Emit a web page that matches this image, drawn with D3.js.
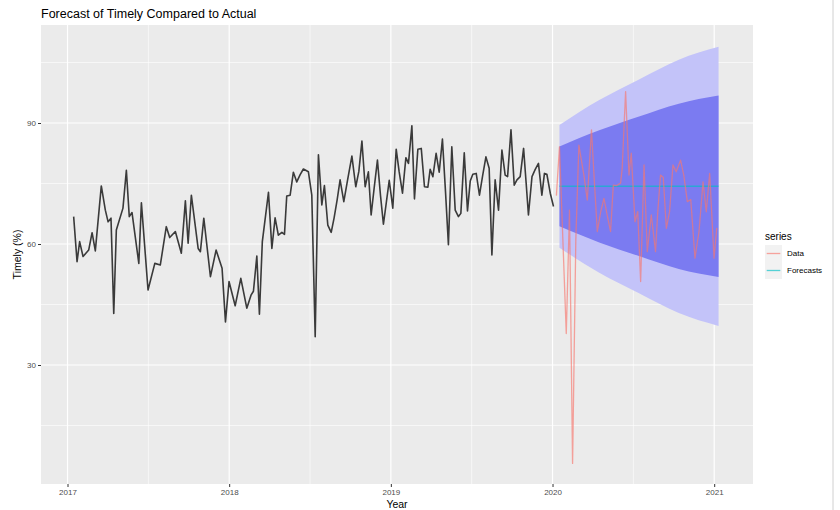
<!DOCTYPE html>
<html>
<head>
<meta charset="utf-8">
<script src="https://cdn.jsdelivr.net/npm/d3@7"></script>
<style>
  html, body { margin: 0; padding: 0; background: #ffffff; }
  svg { display: block; font-family: "Liberation Sans", Arial, sans-serif; }
</style>
</head>
<body>
<svg id="chart" width="840" height="510"></svg>
<script>
// ---------- DATA ----------
// Actual series (black), decimal year and Timely (%)
const actualTime = [
  2017.038, 2017.059, 2017.075, 2017.096, 2017.131, 2017.152, 2017.172, 2017.209, 2017.234, 2017.251,
  2017.269, 2017.286, 2017.302, 2017.343, 2017.364, 2017.382, 2017.399, 2017.441, 2017.457, 2017.498,
  2017.540, 2017.574, 2017.611, 2017.632, 2017.667, 2017.704, 2017.729, 2017.746, 2017.766, 2017.808,
  2017.822, 2017.843, 2017.884, 2017.919, 2017.956, 2017.977, 2017.999, 2018.037, 2018.072, 2018.109,
  2018.136, 2018.150, 2018.171, 2018.187, 2018.205, 2018.243, 2018.264, 2018.284, 2018.304, 2018.326,
  2018.342, 2018.356, 2018.377, 2018.397, 2018.418, 2018.439, 2018.459, 2018.490, 2018.511, 2018.532,
  2018.552, 2018.573, 2018.589, 2018.610, 2018.631, 2018.649, 2018.668, 2018.686, 2018.709, 2018.733,
  2018.759, 2018.783, 2018.802, 2018.821, 2018.841, 2018.861, 2018.878, 2018.897, 2018.917, 2018.936,
  2018.954, 2018.971, 2018.990, 2019.012, 2019.033, 2019.051, 2019.072, 2019.093, 2019.109, 2019.130,
  2019.146, 2019.167, 2019.188, 2019.208, 2019.229, 2019.243, 2019.260, 2019.280, 2019.299, 2019.319,
  2019.338, 2019.356, 2019.377, 2019.398, 2019.418, 2019.433, 2019.454, 2019.474, 2019.491, 2019.507,
  2019.528, 2019.548, 2019.568, 2019.588, 2019.608, 2019.625, 2019.645, 2019.666, 2019.687, 2019.707,
  2019.722, 2019.743, 2019.763, 2019.780, 2019.800, 2019.821, 2019.837, 2019.851, 2019.873, 2019.893,
  2019.913, 2019.934, 2019.950, 2019.965, 2019.986, 2020.006
];
const actualValue = [
  66.8, 55.6, 60.6, 56.9, 58.5, 62.8, 58.3, 74.4, 68.4, 65.5,
  66.4, 42.8, 63.5, 68.9, 78.3, 66.8, 67.8, 55.2, 70.2, 48.6,
  55.2, 54.8, 64.3, 61.6, 63.1, 57.7, 70.7, 60.2, 72.1, 58.9,
  58.1, 66.4, 51.9, 58.5, 54.0, 40.7, 50.7, 44.7, 51.5, 44.1,
  47.4, 48.3, 57.0, 42.6, 60.6, 72.8, 58.9, 66.5, 62.2, 62.9,
  62.4, 71.9, 72.1, 77.8, 75.4, 77.2, 78.6, 77.9, 72.1, 37.0,
  82.1, 69.7, 74.5, 64.7, 62.9, 66.5, 71.0, 75.9, 70.5, 76.0,
  81.8, 74.2, 78.0, 85.5, 74.2, 77.9, 67.2, 74.0, 80.8, 72.0,
  64.9, 70.0, 75.8, 68.9, 83.5, 78.0, 72.6, 81.4, 80.0, 89.3,
  71.2, 83.5, 83.7, 74.2, 74.1, 78.5, 76.7, 82.5, 77.8, 86.0,
  73.0, 59.8, 84.1, 68.4, 66.8, 67.6, 82.6, 68.2, 75.6, 77.3,
  77.5, 72.1, 77.0, 81.6, 78.8, 57.3, 75.9, 68.4, 83.3, 77.1,
  76.7, 88.3, 74.6, 75.9, 76.7, 83.7, 75.0, 67.2, 76.7, 78.5,
  80.0, 72.1, 77.5, 77.3, 72.6, 69.3
];

// Test data (red "Data" series)
const testTime = [
  2020.024, 2020.043, 2020.064, 2020.085, 2020.105, 2020.124, 2020.144, 2020.163, 2020.194, 2020.215,
  2020.241, 2020.258, 2020.277, 2020.298, 2020.318, 2020.339, 2020.359, 2020.376, 2020.397, 2020.421,
  2020.431, 2020.452, 2020.473, 2020.487, 2020.510, 2020.527, 2020.545, 2020.566, 2020.586, 2020.611,
  2020.637, 2020.651, 2020.668, 2020.685, 2020.704, 2020.724, 2020.745, 2020.765, 2020.792, 2020.812,
  2020.834, 2020.855, 2020.881, 2020.906, 2020.931, 2020.951, 2020.972, 2020.999, 2021.016
];
const testValue = [
  72.0, 84.1, 61.0, 37.8, 68.4, 5.6, 61.0, 84.5, 77.1, 70.9,
  88.3, 76.0, 63.1, 68.0, 71.3, 67.0, 63.1, 74.6, 74.5, 75.1,
  78.8, 97.8, 77.1, 82.5, 65.5, 68.0, 50.7, 79.6, 58.1, 67.2,
  58.1, 68.0, 77.1, 76.5, 63.9, 68.0, 79.6, 77.9, 80.8, 77.0,
  70.5, 71.0, 56.5, 63.1, 75.4, 68.0, 77.5, 56.5, 64.0
];

// Forecast (point forecast and prediction intervals), sampled along the horizon
const fcTime = [2020.043, 2020.289, 2020.535, 2020.781, 2021.027];
const fcMean = [74.3, 74.3, 74.3, 74.3, 74.3];
const lo80 = [64.4, 60.4, 57.0, 53.8, 51.8];
const hi80 = [84.2, 88.2, 91.6, 94.8, 96.8];
const lo95 = [59.1, 52.9, 47.8, 42.9, 39.7];
const hi95 = [89.5, 95.7, 100.8, 105.7, 108.9];

// Axis ticks
const xMajorTicks = [2017, 2018, 2019, 2020, 2021];
const xMinorTicks = [2017.5, 2018.5, 2019.5, 2020.5];
const yMajorTicks = [30, 60, 90];
const yMinorTicks = [15, 45, 75, 105];

const seriesNames = ["Data", "Forecasts"];
const seriesColors = ["#F8766D", "#00BFC4"];

// ---------- LAYOUT ----------
const panel = { left: 41, right: 753, top: 25, bottom: 484 };
const svg = d3.select("#chart");

const x = d3.scaleLinear().domain([2016.836, 2021.24]).range([panel.left, panel.right]);
const y = d3.scaleLinear().domain([0.5, 114.3]).range([panel.bottom, panel.top]);

// Panel background
svg.append("rect")
  .attr("x", panel.left).attr("y", panel.top)
  .attr("width", panel.right - panel.left).attr("height", panel.bottom - panel.top)
  .attr("fill", "#EBEBEB");

// Grid
const grid = svg.append("g");
grid.selectAll("line.ymin").data(yMinorTicks).enter().append("line")
  .attr("x1", panel.left).attr("x2", panel.right)
  .attr("y1", d => y(d)).attr("y2", d => y(d))
  .attr("stroke", "#FFFFFF").attr("stroke-width", 0.6);
grid.selectAll("line.xmin").data(xMinorTicks).enter().append("line")
  .attr("y1", panel.top).attr("y2", panel.bottom)
  .attr("x1", d => x(d)).attr("x2", d => x(d))
  .attr("stroke", "#FFFFFF").attr("stroke-width", 0.6);
grid.selectAll("line.ymaj").data(yMajorTicks).enter().append("line")
  .attr("x1", panel.left).attr("x2", panel.right)
  .attr("y1", d => y(d)).attr("y2", d => y(d))
  .attr("stroke", "#FFFFFF").attr("stroke-width", 1.2);
grid.selectAll("line.xmaj").data(xMajorTicks).enter().append("line")
  .attr("y1", panel.top).attr("y2", panel.bottom)
  .attr("x1", d => x(d)).attr("x2", d => x(d))
  .attr("stroke", "#FFFFFF").attr("stroke-width", 1.2);

// Prediction interval ribbons
const fcRows = fcTime.map((t, i) => ({ t, m: fcMean[i], l80: lo80[i], h80: hi80[i], l95: lo95[i], h95: hi95[i] }));
const area95 = d3.area().curve(d3.curveNatural)
  .x(d => x(d.t)).y0(d => y(d.l95)).y1(d => y(d.h95));
const area80 = d3.area().curve(d3.curveNatural)
  .x(d => x(d.t)).y0(d => y(d.l80)).y1(d => y(d.h80));
svg.append("path").datum(fcRows).attr("d", area95).attr("fill", "#C3C3F9");
svg.append("path").datum(fcRows).attr("d", area80).attr("fill", "#7B7BF1");

// Actual (black) line
const actualRows = actualTime.map((t, i) => ({ t, v: actualValue[i] }));
const line = d3.line().x(d => x(d.t)).y(d => y(d.v));
svg.append("path").datum(actualRows).attr("d", line)
  .attr("fill", "none").attr("stroke", "#3a3a3a").attr("stroke-width", 1.6)
  .attr("stroke-linejoin", "round");

// Point forecast line
const fcLine = d3.line().x(d => x(d.t)).y(d => y(d.m));
svg.append("path").datum(fcRows).attr("d", fcLine)
  .attr("fill", "none").attr("stroke", seriesColors[1]).attr("stroke-opacity", 0.65)
  .attr("stroke-width", 1.5);

// Test data (red) line
const testRows = testTime.map((t, i) => ({ t, v: testValue[i] }));
svg.append("path").datum(testRows).attr("d", line)
  .attr("fill", "none").attr("stroke", seriesColors[0]).attr("stroke-opacity", 0.65)
  .attr("stroke-width", 1.3).attr("stroke-linejoin", "round");

// Axes
const xAxis = d3.axisBottom(x).tickValues(xMajorTicks).tickFormat(d3.format("d")).tickSize(3).tickPadding(2);
const gx = svg.append("g").attr("transform", `translate(0,${panel.bottom})`).call(xAxis);
gx.select(".domain").remove();
gx.selectAll(".tick line").attr("stroke", "#333333");
gx.selectAll(".tick text").attr("fill", "#4D4D4D").style("font-size", "8px")
  .style("font-family", "'Liberation Sans', Arial, sans-serif");

const yAxis = d3.axisLeft(y).tickValues(yMajorTicks).tickFormat(d3.format("d")).tickSize(3).tickPadding(2);
const gy = svg.append("g").attr("transform", `translate(${panel.left},0)`).call(yAxis);
gy.select(".domain").remove();
gy.selectAll(".tick line").attr("stroke", "#333333");
gy.selectAll(".tick text").attr("fill", "#4D4D4D").style("font-size", "8px")
  .style("font-family", "'Liberation Sans', Arial, sans-serif");

// Titles
svg.append("text").attr("x", panel.left).attr("y", 18)
  .attr("font-size", 12.5).attr("fill", "#000").text("Forecast of Timely Compared to Actual");
svg.append("text").attr("x", (panel.left + panel.right) / 2).attr("y", 508)
  .attr("text-anchor", "middle").attr("font-size", 10.5).attr("fill", "#000").text("Year");
svg.append("text")
  .attr("transform", `translate(21,${(panel.top + panel.bottom) / 2}) rotate(-90)`)
  .attr("text-anchor", "middle").attr("font-size", 10.5).attr("fill", "#000").text("Timely (%)");

// Legend
const lg = svg.append("g").attr("transform", "translate(765,0)");
lg.append("text").attr("x", 0).attr("y", 240).attr("font-size", 10).attr("fill", "#000").text("series");
seriesNames.forEach((name, i) => {
  const cy = 253.5 + i * 17;
  lg.append("rect").attr("x", 0).attr("y", cy - 8.5).attr("width", 17).attr("height", 17).attr("fill", "#F2F2F2");
  lg.append("line").attr("x1", 1.7).attr("x2", 15.3).attr("y1", cy).attr("y2", cy)
    .attr("stroke", seriesColors[i]).attr("stroke-opacity", 0.65).attr("stroke-width", 1.3);
  lg.append("text").attr("x", 22).attr("y", cy).attr("dy", "0.35em")
    .attr("font-size", 8).attr("fill", "#000").text(name);
});

// Thin frame line at right edge of the screenshot
svg.append("line").attr("x1", 833).attr("x2", 833).attr("y1", 0).attr("y2", 510)
  .attr("stroke", "#d0d0d0").attr("stroke-width", 1);
</script>
</body>
</html>
